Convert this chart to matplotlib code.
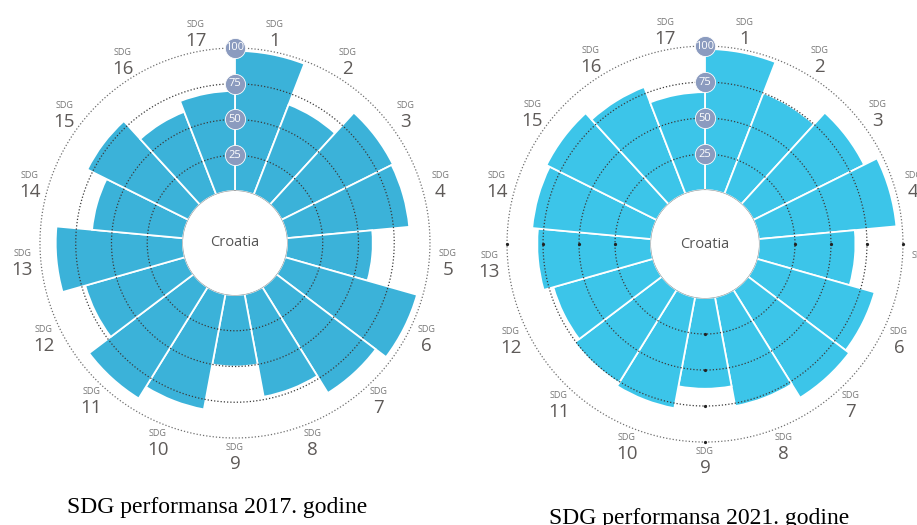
import numpy as np
import matplotlib
matplotlib.use("Agg")
import matplotlib.pyplot as plt

# SDG scores (Croatia)
goals = list(range(1, 18))
scores_2017 = [98, 67.5, 87, 86, 60, 96, 87, 73, 50, 82, 91.5, 72.5, 89, 64, 79, 62, 70]
scores_2021 = [98, 75, 86, 96, 67, 85, 88, 77, 63, 78.5, 76, 72, 79, 83, 85.5, 79.5, 68]
ring_values = [25, 50, 75, 100]
country = "Croatia"
titles = ["SDG performansa 2017. godine", "SDG performansa 2021. godine"]

LABEL_FONT = ["Open Sans", "DejaVu Sans"]


def draw_wheel(ax, scores, bar_color, hole, ticks_on_rings=False):
    n = len(scores)
    width = 2 * np.pi / n
    theta = np.arange(n) * width
    ax.set_theta_zero_location("N")
    ax.set_theta_direction(-1)
    ax.set_rorigin(-hole)
    ax.set_ylim(0, 100)
    ax.axis("off")

    ax.bar(theta, scores, width=width, bottom=0, align="edge", color=bar_color,
           edgecolor="white", linewidth=1.3, zorder=2)

    t = np.linspace(0, 2 * np.pi, 600)
    for rv in ring_values:
        col = "#3a3a3a" if rv < 100 else "#707070"
        ax.plot(t, np.full_like(t, rv), color=col, lw=0.9, ls=(0, (1, 1.6)),
                zorder=3, clip_on=False)
        if ticks_on_rings:
            ax.plot(np.arange(4) * np.pi / 2, [rv] * 4, "o", ms=1.3, color="#222222",
                    zorder=3, clip_on=False)
    # hole outline
    ax.plot(t, np.zeros_like(t), color="#9a9a9a", lw=0.8, zorder=3)

    # value badges along the 12 o'clock spoke
    for rv in ring_values:
        ax.plot(0, rv, "o", ms=14.5, color="#8b9bbf", mec="white", mew=0.6,
                zorder=5, clip_on=False)
        ax.text(0, rv, str(rv), color="white", fontsize=8, ha="center",
                va="center", zorder=6, family=LABEL_FONT)

    # SDG labels around the rim
    for i, g in enumerate(goals):
        th = theta[i] + width / 2
        ax.annotate("SDG", (th, 113), xytext=(0, 6.5), textcoords="offset points",
                    ha="center", va="center", fontsize=6.5, color="#777777",
                    family=LABEL_FONT, annotation_clip=False)
        ax.annotate(str(g), (th, 113), xytext=(0, -5.5), textcoords="offset points",
                    ha="center", va="center", fontsize=13.5, color="#5e5a58",
                    family=LABEL_FONT, annotation_clip=False)

    ax.text(0.5, 0.5, country, transform=ax.transAxes, ha="center", va="center",
            fontsize=10.5, color="#555555", family=LABEL_FONT)


fig = plt.figure(figsize=(9.17, 5.25), dpi=100)

ax1 = fig.add_axes([0.0436, 0.1657, 0.4253, 0.7429], projection="polar")
draw_wheel(ax1, scores_2017, "#3bb2d9", hole=36.4)

ax2 = fig.add_axes([0.5529, 0.158, 0.4318, 0.7543], projection="polar")
draw_wheel(ax2, scores_2021, "#3cc5e9", hole=37.5, ticks_on_rings=True)

fig.text(0.2366, 0.034, titles[0], ha="center", va="center", fontsize=17,
         family="Liberation Serif", color="black")
fig.text(0.7623, 0.013, titles[1], ha="center", va="center", fontsize=17,
         family="Liberation Serif", color="black")

fig.savefig("out.png", dpi=100)
